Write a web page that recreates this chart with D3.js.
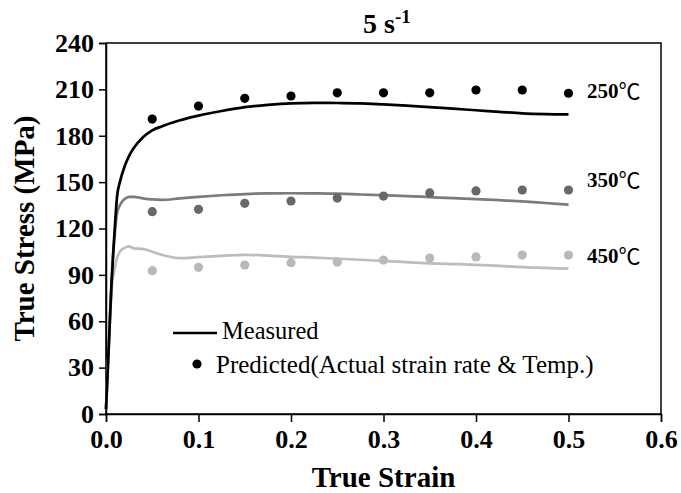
<!DOCTYPE html>
<html>
<head>
<meta charset="utf-8">
<script src="https://cdn.jsdelivr.net/npm/d3@7"></script>
<style>
  body { margin: 0; background: #fff; }
  svg { display: block; }
</style>
</head>
<body>
<div id="chart"></div>
<script>
// measured flow curves (shared strain grid)
const strain = [0, 0.002, 0.004, 0.006, 0.008, 0.01, 0.012, 0.015, 0.02, 0.025, 0.03, 0.04, 0.05, 0.06, 0.08, 0.1,
  0.125, 0.15, 0.175, 0.2, 0.225, 0.25, 0.275, 0.3, 0.325, 0.35, 0.375, 0.4, 0.425, 0.45, 0.475, 0.5];
const measured250 = [3, 30, 58, 85, 106, 125, 141, 150, 160, 167, 172, 179, 183.5, 186, 190, 193,
  196, 198.5, 200, 201, 201.3, 201.2, 201, 200.3, 199.5, 198.5, 197.5, 196.5, 195.5, 194.5, 194, 193.8];
const measured350 = [3, 30, 58, 85, 106, 120, 130, 135, 139, 140.5, 140.5, 139.5, 138.8, 138.5, 139.5, 140.5,
  141.5, 142.3, 142.7, 142.8, 142.7, 142.5, 142, 141.5, 141, 140.3, 139.6, 139, 138.3, 137.5, 136.5, 135.5];
const measured450 = [3, 30, 58, 80, 90, 96, 101, 105, 107.5, 108.5, 107.2, 106.8, 105, 103, 100.8, 101.5,
  102.3, 103, 102.5, 101.7, 101.2, 100.5, 99.8, 99, 98.2, 97.5, 97, 96.5, 95.8, 95, 94.5, 94];

// predicted points
const predStrain = [0.05, 0.1, 0.15, 0.2, 0.25, 0.3, 0.35, 0.4, 0.45, 0.5];
const predicted250 = [190.8, 199.2, 204.2, 205.7, 207.8, 207.8, 207.8, 209.6, 209.6, 207.5];
const predicted350 = [130.9, 132.4, 136.3, 137.8, 139.7, 141, 143, 144.3, 144.9, 144.9];
const predicted450 = [92.7, 94.9, 96.4, 97.9, 98.3, 99.6, 100.9, 101.6, 102.8, 102.8];

const temps = ["250", "350", "450"];
const xTicks = [0, 0.1, 0.2, 0.3, 0.4, 0.5, 0.6];
const yTicks = [0, 30, 60, 90, 120, 150, 180, 210, 240];

const width = 681, height = 493;
const margin = { left: 106, right: 20, top: 43, bottom: 79 };
const serif = "'Liberation Serif', 'Times New Roman', serif";

const svg = d3.select("#chart").append("svg")
  .attr("width", width)
  .attr("height", height)
  .attr("font-family", serif);

const x = d3.scaleLinear().domain([0, 0.6]).range([margin.left, width - margin.right]);
const y = d3.scaleLinear().domain([0, 240]).range([height - margin.bottom, margin.top]);

const series = [
  { line: measured450, dots: predicted450, lineColor: "#bdbdbd", dotColor: "#b9b9b9", temp: temps[2] },
  { line: measured350, dots: predicted350, lineColor: "#7c7c7c", dotColor: "#686868", temp: temps[1] },
  { line: measured250, dots: predicted250, lineColor: "#000", dotColor: "#000", temp: temps[0] }
];

// frame
svg.append("rect")
  .attr("x", x(0)).attr("y", y(240))
  .attr("width", x(0.6) - x(0)).attr("height", y(0) - y(240))
  .attr("fill", "none").attr("stroke", "#000").attr("stroke-width", 1.5);

// x axis
const xAxis = svg.append("g").attr("transform", `translate(0,${y(0)})`);
xAxis.call(d3.axisBottom(x).tickValues(d3.range(0, 0.6001, 0.05)).tickSize(5).tickFormat(""));
xAxis.call(d3.axisBottom(x).tickValues(xTicks).tickSize(8).tickFormat(d3.format(".1f")));
xAxis.selectAll(".domain").attr("stroke-width", 1.5);
xAxis.selectAll("line").attr("stroke-width", 1.5);
xAxis.selectAll("text")
  .attr("font-family", serif).attr("font-size", 26).attr("font-weight", "bold")
  .attr("fill", "#000").attr("dy", "0.95em").attr("y", 9);

// y axis
const yAxis = svg.append("g").attr("transform", `translate(${x(0)},0)`);
yAxis.call(d3.axisLeft(y).tickValues(d3.range(0, 241, 15)).tickSize(4).tickFormat(""));
yAxis.call(d3.axisLeft(y).tickValues(yTicks).tickSize(7).tickFormat(d3.format("d")));
yAxis.selectAll(".domain").attr("stroke-width", 1.5);
yAxis.selectAll("line").attr("stroke-width", 1.5);
yAxis.selectAll("text")
  .attr("font-family", serif).attr("font-size", 26).attr("font-weight", "bold")
  .attr("fill", "#000").attr("x", -12);

// curves
const line = d3.line()
  .x((d, i) => x(strain[i]))
  .y(d => y(d))
  .curve(d3.curveMonotoneX);

series.forEach(s => {
  svg.append("path")
    .datum(s.line)
    .attr("d", line)
    .attr("fill", "none")
    .attr("stroke", s.lineColor)
    .attr("stroke-width", 2.7)
    .attr("stroke-linejoin", "round");
});

series.forEach(s => {
  svg.append("g").selectAll("circle")
    .data(s.dots)
    .join("circle")
    .attr("cx", (d, i) => x(predStrain[i]))
    .attr("cy", d => y(d))
    .attr("r", 4.6)
    .attr("fill", s.dotColor);
});

// temperature labels
const labelY = [263, 187, 98];
series.forEach((s, i) => {
  const t = svg.append("text")
    .attr("x", 587).attr("y", labelY[i])
    .attr("font-size", 21).attr("font-weight", "bold");
  t.append("tspan").text(s.temp);
  t.append("tspan")
    .attr("font-family", "'Noto Sans CJK SC', 'Noto Sans CJK JP', serif")
    .attr("font-weight", "normal").attr("font-size", 22).attr("dy", 1)
    .text("℃");
});

// legend
svg.append("line")
  .attr("x1", 173).attr("x2", 217).attr("y1", 333).attr("y2", 333)
  .attr("stroke", "#000").attr("stroke-width", 2.6);
svg.append("text")
  .attr("x", 222).attr("y", 339)
  .attr("font-size", 24.5)
  .text("Measured");
svg.append("circle")
  .attr("cx", 197).attr("cy", 364).attr("r", 4.6).attr("fill", "#000");
svg.append("text")
  .attr("x", 216).attr("y", 373)
  .attr("font-size", 25)
  .text("Predicted(Actual strain rate & Temp.)");

// title
const title = svg.append("text")
  .attr("x", 363).attr("y", 33)
  .attr("font-size", 28).attr("font-weight", "bold");
title.append("tspan").text("5 s");
title.append("tspan").attr("font-size", 19).attr("dy", -10).text("-1");

// axis titles
svg.append("text")
  .attr("x", (x(0) + x(0.6)) / 2).attr("y", 487)
  .attr("text-anchor", "middle")
  .attr("font-size", 29).attr("font-weight", "bold")
  .text("True Strain");

svg.append("text")
  .attr("transform", `translate(34,${(y(0) + y(240)) / 2}) rotate(-90)`)
  .attr("text-anchor", "middle")
  .attr("font-size", 29).attr("font-weight", "bold")
  .text("True Stress (MPa)");
</script>
</body>
</html>
